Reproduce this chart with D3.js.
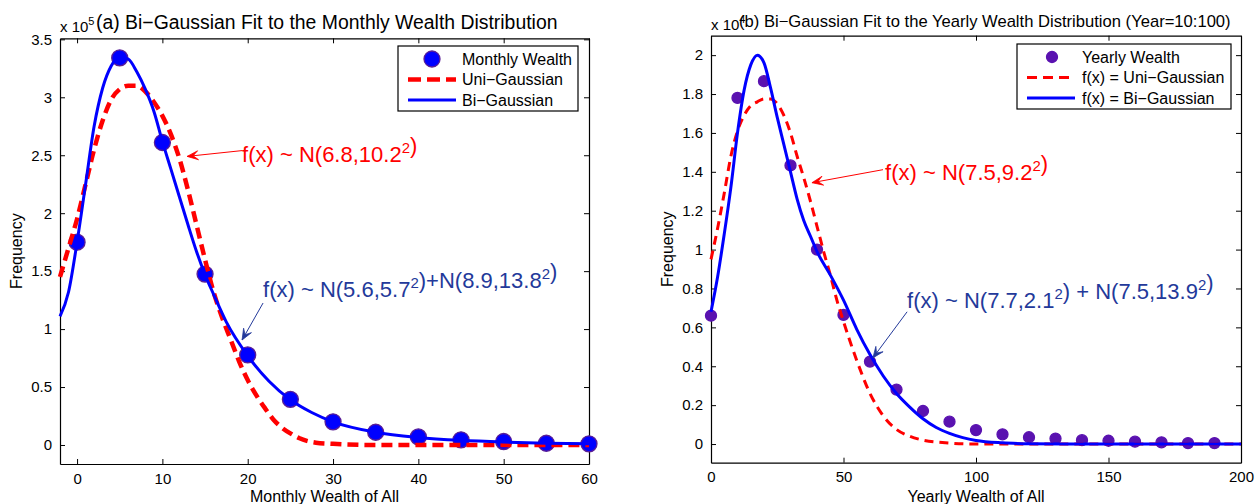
<!DOCTYPE html>
<html>
<head>
<meta charset="utf-8">
<script src="https://cdn.jsdelivr.net/npm/d3@7"></script>
<style>
  html, body { margin: 0; padding: 0; background: #fff; }
  svg { display: block; font-family: "Liberation Sans", Arial, Helvetica, sans-serif; }
</style>
</head>
<body>
<svg id="chart" width="1256" height="504"></svg>
<script>
// ---------------- DATA ----------------
// (a) Monthly wealth
const monthlyX = [0, 5, 10, 15, 20, 25, 30, 35, 40, 45, 50, 55, 60];
const monthlyFreq = [1.75, 3.34, 2.61, 1.475, 0.777, 0.394, 0.20, 0.11, 0.07, 0.045, 0.03, 0.015, 0.01];

const monthlyUniX = [-2, -1, 0, 1, 2, 3, 4, 5, 6, 7, 8, 9, 10, 11, 12, 13, 14, 15, 16, 17, 18, 19, 20, 21, 22, 23, 24, 25, 26, 28, 30, 35, 40, 45, 50, 55, 60];
const monthlyUni = [1.45, 1.70, 1.95, 2.25, 2.55, 2.80, 2.98, 3.07, 3.10, 3.10, 3.05, 2.96, 2.84, 2.68, 2.47, 2.20, 1.90, 1.60, 1.32, 1.10, 0.91, 0.72, 0.56, 0.43, 0.32, 0.22, 0.15, 0.10, 0.06, 0.02, 0.01, 0, 0, 0, 0, 0, 0];

const monthlyBiX = [-2, -1, 0, 1, 2, 3, 4, 5, 6, 7, 8, 9, 10, 11, 12, 13, 14, 15, 16, 17.5, 20, 22.5, 25, 27.5, 30, 35, 40, 45, 50, 55, 60];
const monthlyBi = [1.11, 1.32, 1.75, 2.25, 2.75, 3.08, 3.27, 3.35, 3.33, 3.22, 3.07, 2.88, 2.62, 2.38, 2.14, 1.90, 1.67, 1.47, 1.30, 1.06, 0.77, 0.55, 0.39, 0.28, 0.20, 0.11, 0.065, 0.04, 0.025, 0.015, 0.01];

// (b) Yearly wealth
const yearlyX = [0, 10, 20, 30, 40, 50, 60, 70, 80, 90, 100, 110, 120, 130, 140, 150, 160, 170, 180, 190];
const yearlyFreq = [0.66, 1.78, 1.866, 1.433, 1.0, 0.664, 0.424, 0.28, 0.17, 0.115, 0.072, 0.05, 0.035, 0.028, 0.02, 0.017, 0.012, 0.009, 0.005, 0.005];

const yearlyUniX = [0, 2.5, 5, 7.5, 10, 12.5, 15, 17.5, 20, 22.5, 25, 27.5, 30, 32.5, 35, 37.5, 40, 42.5, 45, 47.5, 50, 55, 60, 65, 70, 75, 80, 90, 100, 125, 150, 175, 200];
const yearlyUni = [0.95, 1.11, 1.29, 1.48, 1.61, 1.69, 1.74, 1.76, 1.775, 1.775, 1.75, 1.69, 1.60, 1.48, 1.37, 1.25, 1.12, 0.99, 0.87, 0.74, 0.63, 0.43, 0.26, 0.145, 0.075, 0.04, 0.02, 0.005, 0, 0, 0, 0, 0];

const yearlyBiX = [0, 2.5, 5, 7.5, 10, 12.5, 15, 17.5, 20, 22.5, 25, 27.5, 30, 32.5, 35, 37.5, 40, 45, 50, 55, 60, 65, 70, 75, 80, 85, 90, 95, 100, 110, 120, 140, 200];
const yearlyBi = [0.68, 0.86, 1.08, 1.32, 1.60, 1.82, 1.95, 2.00, 1.96, 1.83, 1.68, 1.54, 1.40, 1.26, 1.15, 1.07, 0.99, 0.87, 0.74, 0.59, 0.46, 0.35, 0.26, 0.19, 0.13, 0.085, 0.055, 0.033, 0.018, 0.006, 0.002, 0, 0];

// ticks
const monthlyXTicks = [0, 10, 20, 30, 40, 50, 60];
const monthlyYTicks = [0, 0.5, 1, 1.5, 2, 2.5, 3, 3.5];
const yearlyXTicks = [0, 50, 100, 150, 200];
const yearlyYTicks = [0, 0.2, 0.4, 0.6, 0.8, 1, 1.2, 1.4, 1.6, 1.8, 2];

// text
const titles = ["(a) Bi\u2212Gaussian Fit to the Monthly Wealth Distribution",
                "(b) Bi\u2212Gaussian Fit to the Yearly Wealth Distribution (Year=10:100)"];
const xLabels = ["Monthly Wealth of All", "Yearly Wealth of All"];
const yLabel = "Frequency";
const exponents = ["5", "4"];
const legendA = ["Monthly Wealth", "Uni\u2212Gaussian", "Bi\u2212Gaussian"];
const legendB = ["Yearly Wealth", "f(x) = Uni\u2212Gaussian", "f(x) = Bi\u2212Gaussian"];

// ---------------- DRAW ----------------
const svg = d3.select("#chart");
const RED = "#ff0000", BLUE = "#0000ff", NAVY = "#23399a";

function panel(cfg) {
  const g = svg.append("g");
  const x = d3.scaleLinear().domain(cfg.xDomain).range(cfg.xRange);
  const y = d3.scaleLinear().domain(cfg.yDomain).range(cfg.yRange);
  const [x0, x1] = cfg.xRange, [y0, y1] = cfg.yRange; // y0 bottom, y1 top
  const TL = 5;

  // exponent + title (title drawn over the exponent, as in the original)
  const ex = g.append("text").attr("x", x0).attr("y", cfg.expY).attr("font-size", 15);
  ex.append("tspan").text("x 10");
  ex.append("tspan").attr("dy", -7).attr("font-size", 11).text(cfg.exp);
  g.append("text").attr("x", cfg.titleX).attr("y", cfg.titleY).attr("font-size", cfg.titleSize)
    .attr("fill", "#000").text(cfg.title);

  // axes (MATLAB-like inward ticks, box)
  const bottom = g.append("g").attr("transform", `translate(0,${y0})`)
    .call(d3.axisBottom(x).tickValues(cfg.xTicks).tickSizeInner(-TL).tickSizeOuter(0).tickPadding(9).tickFormat(d3.format("")));
  const top = g.append("g").attr("transform", `translate(0,${y1})`)
    .call(d3.axisTop(x).tickValues(cfg.xTicks).tickSizeInner(-TL).tickSizeOuter(0).tickFormat(""));
  const left = g.append("g").attr("transform", `translate(${x0},0)`)
    .call(d3.axisLeft(y).tickValues(cfg.yTicks).tickSizeInner(-TL).tickSizeOuter(0).tickPadding(8).tickFormat(d3.format("")));
  const right = g.append("g").attr("transform", `translate(${x1},0)`)
    .call(d3.axisRight(y).tickValues(cfg.yTicks).tickSizeInner(-TL).tickSizeOuter(0).tickFormat(""));
  [bottom, top, left, right].forEach(a => {
    a.selectAll("path.domain").attr("stroke", "#000").attr("stroke-width", 1.2);
    a.selectAll(".tick line").attr("stroke", "#000").attr("stroke-width", 1);
    a.selectAll("text").attr("font-size", 15).attr("fill", "#000")
      .attr("font-family", "'Liberation Sans', Arial, sans-serif");
  });

  // markers
  g.append("g").selectAll("circle").data(cfg.pts).join("circle")
    .attr("cx", d => x(d[0])).attr("cy", d => y(d[1]))
    .attr("r", cfg.markerR).attr("fill", cfg.markerFill)
    .attr("stroke", cfg.markerStroke).attr("stroke-width", 1.3);

  const line = d3.line().x(d => x(d[0])).y(d => y(d[1])).curve(d3.curveMonotoneX);
  g.append("path").datum(cfg.uni).attr("d", line).attr("fill", "none")
    .attr("stroke", RED).attr("stroke-width", cfg.redW).attr("stroke-dasharray", cfg.dash);
  g.append("path").datum(cfg.bi).attr("d", line).attr("fill", "none")
    .attr("stroke", BLUE).attr("stroke-width", 3);

  // axis labels
  g.append("text").attr("x", (x0 + x1) / 2).attr("y", 502).attr("text-anchor", "middle")
    .attr("font-size", 16).text(cfg.xLabel);
  g.append("text").attr("transform", `translate(${cfg.yLabelX},${(y0 + y1) / 2}) rotate(-90)`)
    .attr("text-anchor", "middle").attr("font-size", 16).text(yLabel);

  // legend
  const L = cfg.legend;
  g.append("rect").attr("x", L.x).attr("y", L.y).attr("width", L.w).attr("height", L.h)
    .attr("fill", "#fff").attr("stroke", "#000").attr("stroke-width", 1.2);
  L.labels.forEach((t, i) => {
    const cy = L.y + 13 + i * 20.5;
    if (i === 0) {
      g.append("circle").attr("cx", L.x + L.mx).attr("cy", cy).attr("r", cfg.markerR)
        .attr("fill", cfg.markerFill).attr("stroke", cfg.markerStroke).attr("stroke-width", 1.3);
    } else {
      g.append("line").attr("x1", L.x + L.l0).attr("x2", L.x + L.l1).attr("y1", cy).attr("y2", cy)
        .attr("stroke", i === 1 ? RED : BLUE).attr("stroke-width", i === 1 ? cfg.redW : 3)
        .attr("stroke-dasharray", i === 1 ? cfg.legDash : null);
    }
    g.append("text").attr("x", L.x + L.tx).attr("y", cy + 5.5).attr("font-size", 16).text(t);
  });

  // annotations
  cfg.notes.forEach(n => {
    const tx = g.append("text").attr("x", x(n.text[0])).attr("y", y(n.text[1]))
      .attr("font-size", 22).attr("fill", n.color);
    n.parts.forEach(p => {
      if (p.sup) {
        tx.append("tspan").attr("dy", -9).attr("font-size", 15).text(p.sup);
        tx.append("tspan").attr("dy", 9).text("");
      } else tx.append("tspan").text(p.t);
    });
    const ax0 = x(n.tail[0]), ay0 = y(n.tail[1]), ax1 = x(n.head[0]), ay1 = y(n.head[1]);
    g.append("line").attr("x1", ax0).attr("y1", ay0).attr("x2", ax1).attr("y2", ay1)
      .attr("stroke", n.color).attr("stroke-width", 1);
    const ang = Math.atan2(ay1 - ay0, ax1 - ax0);
    const hl = 11, hw = 4.5;
    const bx = ax1 - hl * Math.cos(ang), by = ay1 - hl * Math.sin(ang);
    const nx = ax1 - hl * 0.55 * Math.cos(ang), ny = ay1 - hl * 0.55 * Math.sin(ang);
    const px = -Math.sin(ang), py = Math.cos(ang);
    g.append("path").attr("d", `M${ax1},${ay1}L${bx + px * hw},${by + py * hw}L${nx},${ny}L${bx - px * hw},${by - py * hw}Z`)
      .attr("fill", n.color).attr("stroke", n.color).attr("stroke-width", 0.8);
  });
}

panel({
  xDomain: [-2, 60], xRange: [60, 589],
  yDomain: [-0.164, 3.509], yRange: [464, 38.3],
  xTicks: monthlyXTicks, yTicks: monthlyYTicks,
  pts: monthlyX.map((v, i) => [v, monthlyFreq[i]]),
  uni: monthlyUniX.map((v, i) => [v, monthlyUni[i]]),
  bi: monthlyBiX.map((v, i) => [v, monthlyBi[i]]),
  markerR: 8, markerFill: "#0000ff", markerStroke: "#5a1e96",
  redW: 4.5, dash: "11,6", legDash: "13,6",
  exp: exponents[0], expY: 32, title: titles[0], titleX: 96, titleY: 29, titleSize: 19.4,
  xLabel: xLabels[0], yLabelX: 22,
  legend: { x: 398, y: 46, w: 180, h: 65, mx: 34, l0: 10, l1: 58, tx: 64, labels: legendA },
  notes: [
    { color: RED, text: [19.34, 2.44], tail: [19.34, 2.54], head: [12.9, 2.49],
      parts: [{ t: "f(x) ~ N(6.8,10.2" }, { sup: "2" }, { t: ")" }] },
    { color: NAVY, text: [21.8, 1.277], tail: [21.8, 1.225], head: [19.34, 0.906],
      parts: [{ t: "f(x) ~ N(5.6,5.7" }, { sup: "2" }, { t: ")+N(8.9,13.8" }, { sup: "2" }, { t: ")" }] }
  ]
});

panel({
  xDomain: [0, 200], xRange: [711, 1241],
  yDomain: [-0.096, 2.1], yRange: [462.7, 35.7],
  xTicks: yearlyXTicks, yTicks: yearlyYTicks,
  pts: yearlyX.map((v, i) => [v, yearlyFreq[i]]),
  uni: yearlyUniX.map((v, i) => [v, yearlyUni[i]]),
  bi: yearlyBiX.map((v, i) => [v, yearlyBi[i]]),
  markerR: 5.5, markerFill: "#5a12b0", markerStroke: "#5a12b0",
  redW: 3, dash: "9,6", legDash: "10,6",
  exp: exponents[1], expY: 30, title: titles[1], titleX: 739, titleY: 27, titleSize: 16.6,
  xLabel: xLabels[1], yLabelX: 673,
  legend: { x: 1017, y: 44, w: 214, h: 65, mx: 35, l0: 10, l1: 58, tx: 65, labels: legendB },
  notes: [
    { color: RED, text: [65.7, 1.36], tail: [64.9, 1.411], head: [38.1, 1.344],
      parts: [{ t: "f(x) ~ N(7.5,9.2" }, { sup: "2" }, { t: ")" }] },
    { color: NAVY, text: [74, 0.70], tail: [74, 0.68], head: [61.1, 0.443],
      parts: [{ t: "f(x) ~ N(7.7,2.1" }, { sup: "2" }, { t: ") + N(7.5,13.9" }, { sup: "2" }, { t: ")" }] }
  ]
});
</script>
</body>
</html>
